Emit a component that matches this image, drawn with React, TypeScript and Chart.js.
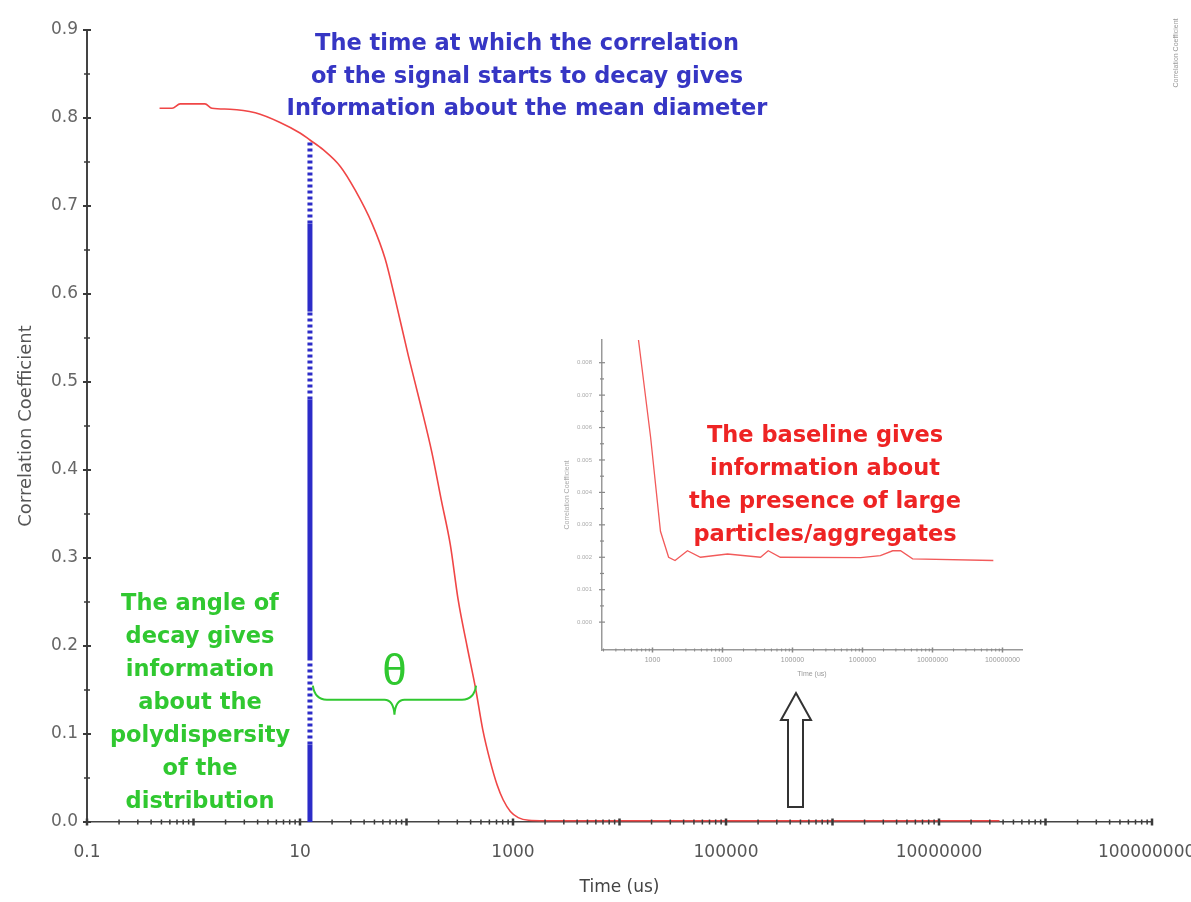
import { useEffect, useRef } from 'react';
import { Chart, registerables } from 'chart.js';

Chart.register(...registerables);

const SANS = '"Liberation Sans", Arial, Helvetica, sans-serif';
const WIDE = '"DejaVu Sans", Verdana, sans-serif';

// Correlogram: delay time (us) against correlation coefficient
const delayTimes = [
  0.48, 0.63, 0.75, 1.28, 1.49, 2.2, 3.8, 6.5, 10, 12.4, 16.5, 23.9, 33, 47.5, 63, 78, 104, 135, 173,
  212, 258, 306, 370, 448, 520, 608, 710, 810, 945, 1120, 1400, 2000, 5000, 2e4, 1e5, 5e5, 2e6, 1e7, 3.7e7,
];
const correlation = [
  0.811, 0.811, 0.816, 0.816, 0.811, 0.81, 0.806, 0.795, 0.783, 0.775, 0.764, 0.745, 0.718, 0.68, 0.64,
  0.595, 0.53, 0.475, 0.42, 0.366, 0.315, 0.252, 0.2, 0.15, 0.105, 0.07, 0.042, 0.025, 0.012, 0.005,
  0.002, 0.0015, 0.0015, 0.0015, 0.0015, 0.0015, 0.0015, 0.0015, 0.0015,
];

// Vertical marker at the onset of decay (mean diameter)
const markerTime = 12.4;
const markerLevels = [0, 0.088, 0.184, 0.48, 0.58, 0.68, 0.775];
const markerDotted = [false, true, false, true, false, true];

// Bracket across the decay region, θ above it
const braceTimes = [13.2, 450];
const braceLevel = 0.139;
const thetaLevel = 0.17;

// Main axis ticks
const xLabelValues = [0.1, 10, 1e3, 1e5, 1e7, 1e9];
const xTickLabels = ['0.1', '10', '1000', '100000', '10000000', '1000000000'];
const yTickStep = 0.1;

// Inset: the baseline of the same correlogram, zoomed in
const insetTimes = [631, 940, 1300, 1700, 2100, 3160, 4840, 11800, 35000, 45000, 67000, 9.4e5, 1.8e6, 2.7e6, 3.5e6, 5.2e6, 7.4e7];
const insetCorrelation = [
  0.0087, 0.0057, 0.0028, 0.002, 0.0019, 0.0022, 0.002, 0.0021, 0.002, 0.0022, 0.002, 0.00199, 0.00205,
  0.0022, 0.0022, 0.00195, 0.0019,
];
const insetXLabelValues = [1e3, 1e4, 1e5, 1e6, 1e7, 1e8];
const insetXTickLabels = ['1000', '10000', '100000', '1000000', '10000000', '100000000'];
const insetYTicks = [0, 0.001, 0.002, 0.003, 0.004, 0.005, 0.006, 0.007, 0.008];

// Annotation texts
const blueNote = ['The time at which the correlation', 'of the signal starts to decay gives', 'Information about the mean diameter'];
const greenNote = ['The angle of', 'decay gives', 'information', 'about the', 'polydispersity', 'of the', 'distribution'];
const redNote = ['The baseline gives', 'information about', 'the presence of large', 'particles/aggregates'];

const BLUE = '#3636c4';
const GREEN = '#30c830';
const RED = '#ee2424';
const NOTE_FONT = `bold 22.5px ${WIDE}`;

const INSET_LEFT = 555;
const INSET_TOP = 330;

function logTicks(min: number, max: number) {
  const out: number[] = [];
  const lo = Math.floor(Math.log10(min));
  const hi = Math.ceil(Math.log10(max));
  for (let e = lo; e <= hi; e++) {
    for (let m = 1; m <= 9; m++) {
      const v = Number(`${m}e${e}`);
      if (v >= min * 0.9999 && v <= max * 1.0001) out.push(v);
    }
  }
  return out;
}

function labelFor(values: number[], labels: string[], v: number) {
  const i = values.findIndex((d) => Math.abs(Math.log10(d) - Math.log10(v)) < 1e-6);
  return i >= 0 ? labels[i] : '';
}

function isDecade(v: number) {
  const l = Math.log10(v);
  return Math.abs(l - Math.round(l)) < 1e-6;
}

function line(ctx: CanvasRenderingContext2D, x0: number, y0: number, x1: number, y1: number) {
  ctx.beginPath();
  ctx.moveTo(x0, y0);
  ctx.lineTo(x1, y1);
  ctx.stroke();
}

const mainDecor = {
  id: 'mainDecor',
  afterDraw(chart: any) {
    const { ctx, scales } = chart;
    const x = scales.x;
    const y = scales.y;
    ctx.save();

    // tick marks crossing the axes
    ctx.strokeStyle = '#3a3a3a';
    x.ticks.forEach((t: any) => {
      const px = x.getPixelForValue(t.value);
      const major = isDecade(t.value);
      ctx.lineWidth = major ? 2.5 : 1.5;
      const len = major ? 3.5 : 2.5;
      line(ctx, px, y.bottom - len, px, y.bottom + len);
    });
    y.ticks.forEach((t: any, i: number) => {
      const py = y.getPixelForValue(t.value);
      ctx.lineWidth = 2;
      line(ctx, x.left - 4, py, x.left + 4, py);
      if (i < y.ticks.length - 1) {
        const pm = y.getPixelForValue(t.value + yTickStep / 2);
        ctx.lineWidth = 1.5;
        line(ctx, x.left - 3, pm, x.left + 3, pm);
      }
    });

    // curly bracket
    const bx0 = x.getPixelForValue(braceTimes[0]);
    const bx1 = x.getPixelForValue(braceTimes[1]);
    const by = y.getPixelForValue(braceLevel);
    const mid = (bx0 + bx1) / 2;
    ctx.strokeStyle = GREEN;
    ctx.lineWidth = 2;
    ctx.beginPath();
    ctx.moveTo(bx0, by - 14);
    ctx.quadraticCurveTo(bx0 + 2, by, bx0 + 14, by);
    ctx.lineTo(mid - 10, by);
    ctx.quadraticCurveTo(mid - 1, by, mid, by + 15);
    ctx.quadraticCurveTo(mid + 1, by, mid + 10, by);
    ctx.lineTo(bx1 - 14, by);
    ctx.quadraticCurveTo(bx1 - 2, by, bx1, by - 14);
    ctx.stroke();

    ctx.fillStyle = GREEN;
    ctx.textAlign = 'center';
    ctx.textBaseline = 'middle';
    ctx.font = `44px ${SANS}`;
    ctx.fillText('θ', mid, y.getPixelForValue(thetaLevel));

    // annotation texts
    ctx.textBaseline = 'alphabetic';
    ctx.font = NOTE_FONT;
    ctx.fillStyle = BLUE;
    blueNote.forEach((s, i) => ctx.fillText(s, 527, 50 + i * 32.5));
    ctx.fillStyle = GREEN;
    greenNote.forEach((s, i) => ctx.fillText(s, 200, 610 + i * 33));

    // hollow arrow pointing up at the inset
    ctx.strokeStyle = '#333';
    ctx.fillStyle = '#fff';
    ctx.lineWidth = 2;
    ctx.beginPath();
    ctx.moveTo(796, 693);
    ctx.lineTo(811, 720);
    ctx.lineTo(803, 720);
    ctx.lineTo(803, 807);
    ctx.lineTo(788, 807);
    ctx.lineTo(788, 720);
    ctx.lineTo(781, 720);
    ctx.closePath();
    ctx.fill();
    ctx.stroke();

    // small series label in the corner
    ctx.save();
    ctx.translate(1176, 53);
    ctx.rotate(-Math.PI / 2);
    ctx.fillStyle = '#999';
    ctx.font = `7px ${SANS}`;
    ctx.textBaseline = 'middle';
    ctx.fillText('Correlation Coefficient', 0, 0);
    ctx.restore();

    ctx.restore();
  },
};

const insetDecor = {
  id: 'insetDecor',
  afterDraw(chart: any) {
    const { ctx, scales } = chart;
    const x = scales.x;
    const y = scales.y;
    ctx.save();
    ctx.strokeStyle = '#888';
    x.ticks.forEach((t: any) => {
      const px = x.getPixelForValue(t.value);
      const major = isDecade(t.value);
      ctx.lineWidth = major ? 1.5 : 1;
      const len = major ? 2.5 : 1.5;
      line(ctx, px, y.bottom - len, px, y.bottom + len);
    });
    y.ticks.forEach((t: any, i: number) => {
      const py = y.getPixelForValue(t.value);
      ctx.lineWidth = 1.2;
      line(ctx, x.left - 3, py, x.left + 3, py);
      if (i < y.ticks.length - 1) {
        const pm = y.getPixelForValue((t.value + y.ticks[i + 1].value) / 2);
        line(ctx, x.left - 2, pm, x.left + 2, pm);
      }
    });

    ctx.fillStyle = RED;
    ctx.textAlign = 'center';
    ctx.textBaseline = 'alphabetic';
    ctx.font = NOTE_FONT;
    redNote.forEach((s, i) => ctx.fillText(s, 825 - INSET_LEFT, 442 - INSET_TOP + i * 33));
    ctx.restore();
  },
};

export default function App() {
  const mainRef = useRef<HTMLCanvasElement>(null);
  const insetRef = useRef<HTMLCanvasElement>(null);

  useEffect(() => {
    const main = new Chart(mainRef.current!, {
      type: 'line',
      data: {
        datasets: [
          {
            data: delayTimes.map((t, i) => ({ x: t, y: correlation[i] })),
            borderColor: '#f04646',
            borderWidth: 1.6,
            pointRadius: 0,
            cubicInterpolationMode: 'monotone',
          },
          {
            data: markerLevels.map((v) => ({ x: markerTime, y: v })),
            borderColor: '#2c2cc8',
            borderWidth: 5,
            borderCapStyle: 'butt',
            pointRadius: 0,
            segment: {
              borderDash: (c: any) => (markerDotted[c.p0DataIndex] ? [3, 3] : []),
            },
          },
        ],
      },
      options: {
        responsive: false,
        animation: false,
        parsing: false,
        layout: { padding: { top: 30, right: 39, left: 0, bottom: 0 } },
        plugins: { legend: { display: false }, tooltip: { enabled: false } },
        scales: {
          x: {
            type: 'logarithmic',
            min: 0.1,
            max: 1e9,
            afterBuildTicks: (s: any) => {
              s.ticks = logTicks(0.1, 1e9).map((v) => ({ value: v }));
            },
            afterFit: (s: any) => {
              s.height = 80;
              s.paddingLeft = 0;
              s.paddingRight = 0;
            },
            grid: { display: false, drawTicks: false },
            border: { display: true, color: '#444', width: 1.5 },
            ticks: {
              autoSkip: false,
              maxRotation: 0,
              minRotation: 0,
              padding: 20,
              color: '#555',
              font: { family: WIDE, size: 17 },
              callback: (v: any) => labelFor(xLabelValues, xTickLabels, Number(v)),
            },
            title: {
              display: true,
              text: 'Time (us)',
              color: '#444',
              font: { family: WIDE, size: 17 },
              padding: { top: 0, bottom: 4 },
            },
          },
          y: {
            min: 0,
            max: 0.9,
            afterFit: (s: any) => {
              s.width = 87;
              s.paddingTop = 0;
              s.paddingBottom = 0;
            },
            grid: { display: false, drawTicks: false },
            border: { display: true, color: '#444', width: 2 },
            ticks: {
              stepSize: yTickStep,
              padding: 9,
              color: '#666',
              font: { family: WIDE, size: 17 },
              callback: (v: any) => Number(v).toFixed(1),
            },
            title: {
              display: true,
              text: 'Correlation Coefficient',
              color: '#555',
              font: { family: WIDE, size: 18 },
              padding: { top: 16, bottom: 0 },
            },
          },
        },
      },
      plugins: [mainDecor],
    } as any);

    const inset = new Chart(insetRef.current!, {
      type: 'line',
      data: {
        datasets: [
          {
            data: insetTimes.map((t, i) => ({ x: t, y: insetCorrelation[i] })),
            borderColor: '#f25a5a',
            borderWidth: 1.3,
            pointRadius: 0,
            tension: 0,
          },
        ],
      },
      options: {
        responsive: false,
        animation: false,
        parsing: false,
        layout: { padding: { top: 10, right: 13, left: 0, bottom: 0 } },
        plugins: { legend: { display: false }, tooltip: { enabled: false } },
        scales: {
          x: {
            type: 'logarithmic',
            min: 190,
            max: 1.9e8,
            afterBuildTicks: (s: any) => {
              s.ticks = logTicks(190, 1.9e8).map((v) => ({ value: v }));
            },
            afterFit: (s: any) => {
              s.height = 40;
              s.paddingLeft = 0;
              s.paddingRight = 0;
            },
            grid: { display: false, drawTicks: false },
            border: { display: true, color: '#999', width: 1.5 },
            ticks: {
              autoSkip: false,
              maxRotation: 0,
              minRotation: 0,
              padding: 6,
              color: '#999',
              font: { family: SANS, size: 7 },
              callback: (v: any) => labelFor(insetXLabelValues, insetXTickLabels, Number(v)),
            },
            title: {
              display: true,
              text: 'Time (us)',
              color: '#999',
              font: { family: SANS, size: 7 },
              padding: { top: 0, bottom: 12 },
            },
          },
          y: {
            min: -0.00086,
            max: 0.0087,
            afterBuildTicks: (s: any) => {
              s.ticks = insetYTicks.map((v) => ({ value: v }));
            },
            afterFit: (s: any) => {
              s.width = 47;
              s.paddingTop = 0;
              s.paddingBottom = 0;
            },
            grid: { display: false, drawTicks: false },
            border: { display: true, color: '#999', width: 1.5 },
            ticks: {
              padding: 10,
              color: '#aaa',
              font: { family: SANS, size: 6 },
              callback: (v: any) => Number(v).toFixed(3),
            },
            title: {
              display: true,
              text: 'Correlation Coefficient',
              color: '#aaa',
              font: { family: SANS, size: 7 },
              padding: { top: 8, bottom: 0 },
            },
          },
        },
      },
      plugins: [insetDecor],
    } as any);

    return () => {
      main.destroy();
      inset.destroy();
    };
  }, []);

  return (
    <div style={{ position: 'fixed', left: 0, top: 0, width: 1191, height: 902, background: '#fff' }}>
      <canvas
        ref={mainRef}
        width={1191}
        height={902}
        style={{ position: 'absolute', left: 0, top: 0, width: 1191, height: 902 }}
      />
      <canvas
        ref={insetRef}
        width={480}
        height={360}
        style={{ position: 'absolute', left: INSET_LEFT, top: INSET_TOP, width: 480, height: 360 }}
      />
    </div>
  );
}
